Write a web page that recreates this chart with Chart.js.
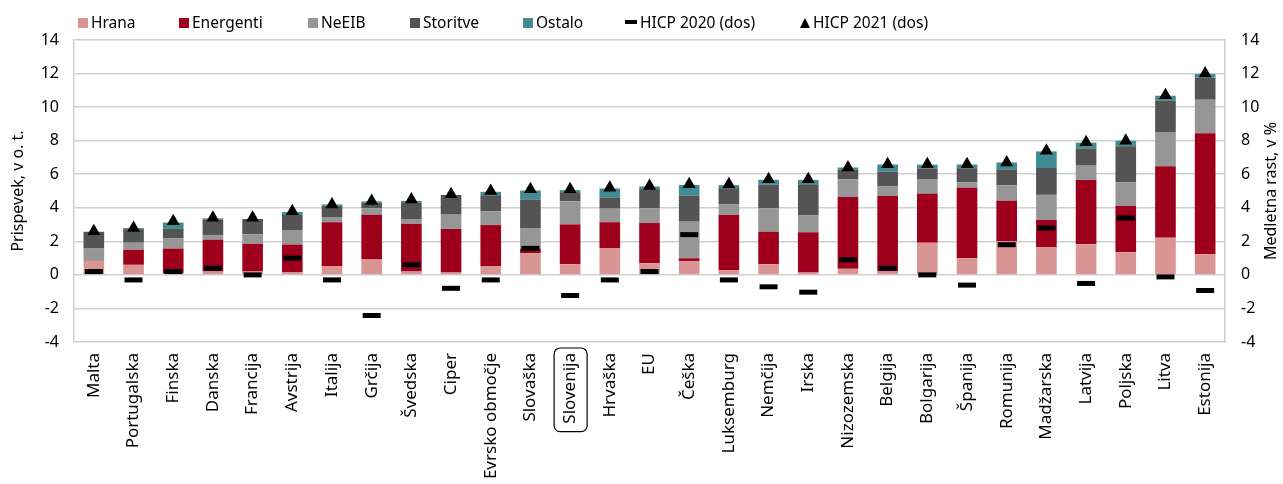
<!DOCTYPE html>
<html>
<head>
<meta charset="utf-8">
<script src="https://cdn.jsdelivr.net/npm/chart.js@4"></script>
<style>
  body { margin: 0; background: #fff; font-family: "Noto Sans", sans-serif; }
  #wrap { position: relative; width: 1283px; height: 484px; }
  #legend { position: absolute; left: 0; top: 0; width: 1283px; height: 40px; font-size: 15.5px; color: #000; }
  .item { position: absolute; top: 12px; white-space: nowrap; line-height: 20px; }
  .sw { display: inline-block; width: 10px; height: 10px; margin-right: 3px; vertical-align: 0px; }
  .dash { display: inline-block; width: 12px; height: 4px; background: #000; margin-right: 3px; vertical-align: 4px; }
  .tri { display: inline-block; width: 0; height: 0; border-left: 5px solid transparent; border-right: 5px solid transparent; border-bottom: 10px solid #000; margin-right: 3px; vertical-align: 0px; }
</style>
</head>
<body>
<div id="wrap">
  <canvas id="grafikon" width="1283" height="484"></canvas>
  <div id="legend">
    <div class="item" style="left:78px"><span class="sw" style="background:#d99594"></span>Hrana</div>
    <div class="item" style="left:179px"><span class="sw" style="background:#9e001c"></span>Energenti</div>
    <div class="item" style="left:308px"><span class="sw" style="background:#969696"></span>NeEIB</div>
    <div class="item" style="left:410px"><span class="sw" style="background:#545454"></span>Storitve</div>
    <div class="item" style="left:523px"><span class="sw" style="background:#3e8c94"></span>Ostalo</div>
    <div class="item" style="left:625px"><span class="dash"></span>HICP 2020 (dos)</div>
    <div class="item" style="left:800px"><span class="tri"></span>HICP 2021 (dos)</div>
  </div>
</div>
<script>
// kategorije (drzave)
var drzave = ["Malta", "Portugalska", "Finska", "Danska", "Francija", "Avstrija", "Italija", "Grčija", "Švedska", "Ciper",
  "Evrsko območje", "Slovaška", "Slovenija", "Hrvaška", "EU", "Češka", "Luksemburg", "Nemčija", "Irska", "Nizozemska",
  "Belgija", "Bolgarija", "Španija", "Romunija", "Madžarska", "Latvija", "Poljska", "Litva", "Estonija"];

// prispevki, v o. t.
var hrana = [0.83, 0.6, 0.1, 0.2, 0.2, 0.15, 0.53, 0.91, 0.2, 0.14, 0.53, 1.3, 0.63, 1.58, 0.69, 0.83, 0.28, 0.63, 0.14, 0.36, 0.2, 1.92, 0.99, 2.0, 1.64, 1.82, 1.35, 2.22, 1.23];
var energenti = [0, 0.9, 1.47, 1.9, 1.65, 1.66, 2.6, 2.67, 2.85, 2.6, 2.44, 0.26, 2.38, 1.56, 2.4, 0.16, 3.31, 1.94, 2.4, 4.28, 4.5, 2.91, 4.2, 2.42, 1.64, 3.84, 2.75, 4.26, 7.21];
var neeib = [0.77, 0.42, 0.6, 0.28, 0.57, 0.83, 0.32, 0.4, 0.28, 0.85, 0.81, 1.2, 1.37, 0.81, 0.87, 2.18, 0.63, 1.39, 1.0, 1.05, 0.57, 0.85, 0.32, 0.91, 1.49, 0.85, 1.41, 2.0, 2.0];
var storitve = [0.97, 0.81, 0.57, 0.93, 0.91, 0.93, 0.67, 0.32, 1.0, 1.17, 0.97, 1.74, 0.55, 0.67, 1.15, 1.56, 0.95, 1.41, 1.86, 0.57, 0.89, 0.67, 0.85, 0.93, 1.6, 1.03, 2.16, 1.92, 1.31];
var ostalo = [0, 0.06, 0.38, 0.06, 0, 0.18, 0.08, 0.08, 0.08, 0, 0.2, 0.53, 0.12, 0.53, 0.16, 0.63, 0.18, 0.3, 0.26, 0.14, 0.42, 0.22, 0.22, 0.44, 0.99, 0.34, 0.32, 0.28, 0.22];

// medletna rast, v %
var hicp2020 = [0.2, -0.3, 0.2, 0.4, 0.0, 1.0, -0.3, -2.42, 0.6, -0.8, -0.3, 1.58, -1.23, -0.3, 0.2, 2.4, -0.3, -0.71, -1.03, 0.9, 0.4, 0.0, -0.61, 1.8, 2.79, -0.51, 3.39, -0.12, -0.93];
var hicp2021 = [2.6, 2.8, 3.2, 3.4, 3.4, 3.8, 4.2, 4.4, 4.5, 4.8, 5.0, 5.1, 5.1, 5.2, 5.3, 5.4, 5.4, 5.7, 5.7, 6.4, 6.6, 6.6, 6.6, 6.7, 7.4, 7.9, 8.0, 10.7, 12.0];

var yTicks = [-4, -2, 0, 2, 4, 6, 8, 10, 12, 14];

var pisava = "'Noto Sans', sans-serif";
var mreza = "#cfcfcf";

function stolpec(label, data, barva) {
  return {
    type: "bar", label: label, data: data, backgroundColor: barva,
    borderWidth: 0, barPercentage: 0.52, categoryPercentage: 1, yAxisID: "y", order: 2
  };
}

// okvir okoli oznake Slovenija + naslov desne osi (bere se od spodaj navzgor)
var dodatki = {
  id: "dodatki",
  afterDraw: function (chart) {
    var c = chart.ctx, xs = chart.scales.x, a = chart.chartArea;
    var i = drzave.indexOf("Slovenija");
    var x = xs.getPixelForValue(i);
    c.save();
    c.font = "17px " + pisava;
    var w = c.measureText("Slovenija").width;
    c.strokeStyle = "#000";
    c.lineWidth = 1.2;
    c.beginPath();
    c.roundRect(x - 16, xs.top + 6, 33, w + 13, 6);
    c.stroke();

    c.font = "16px " + pisava;
    c.fillStyle = "#000";
    c.textAlign = "center";
    c.textBaseline = "middle";
    c.translate(1271, (a.top + a.bottom) / 2);
    c.rotate(-Math.PI / 2);
    c.fillText("Medletna rast, v %", 0, 0);
    c.restore();
  }
};

var ctx = document.getElementById("grafikon").getContext("2d");
new Chart(ctx, {
  data: {
    labels: drzave,
    datasets: [
      stolpec("Hrana", hrana, "#d99594"),
      stolpec("Energenti", energenti, "#9e001c"),
      stolpec("NeEIB", neeib, "#969696"),
      stolpec("Storitve", storitve, "#545454"),
      stolpec("Ostalo", ostalo, "#3e8c94"),
      {
        type: "line", label: "HICP 2020 (dos)", data: hicp2020, yAxisID: "y1", showLine: false,
        pointStyle: "line", pointRadius: 9, pointBorderWidth: 5, borderColor: "#000", backgroundColor: "#000", order: 0
      },
      {
        type: "line", label: "HICP 2021 (dos)", data: hicp2021, yAxisID: "y1", showLine: false,
        pointStyle: "triangle", pointRadius: 7.5, pointBorderWidth: 0, borderColor: "#000", backgroundColor: "#000", order: 0
      }
    ]
  },
  options: {
    responsive: false,
    animation: false,
    layout: { padding: { top: 40, left: 0, right: 0, bottom: 0 } },
    plugins: { legend: { display: false }, tooltip: { enabled: false } },
    scales: {
      x: {
        stacked: true,
        grid: { display: false, drawTicks: false },
        border: { display: false },
        ticks: { color: "#000", font: { family: pisava, size: 17 }, minRotation: 90, maxRotation: 90, autoSkip: false, padding: 11 },
        afterFit: function (s) { s.height = 142; }
      },
      y: {
        stacked: true, position: "left", min: -4, max: 14,
        grid: { color: mreza, lineWidth: 1.5, drawTicks: false },
        border: { color: mreza, width: 1.5 },
        ticks: { color: "#000", font: { family: pisava, size: 16 }, padding: 15, stepSize: 2,
          callback: function (v) { return yTicks.indexOf(v) >= 0 ? v : ""; } },
        title: { display: true, text: "Prispevek, v o. t.", color: "#000", font: { family: pisava, size: 16 }, padding: { top: 9, bottom: 0 } },
        afterFit: function (s) { s.width = 74; }
      },
      y1: {
        position: "right", min: -4, max: 14,
        grid: { display: false, drawTicks: false },
        border: { color: mreza, width: 1.5 },
        ticks: { color: "#000", font: { family: pisava, size: 16 }, padding: 16, stepSize: 2,
          callback: function (v) { return yTicks.indexOf(v) >= 0 ? v : ""; } },
        afterFit: function (s) { s.width = 58; }
      }
    }
  },
  plugins: [dodatki]
});
</script>
</body>
</html>
